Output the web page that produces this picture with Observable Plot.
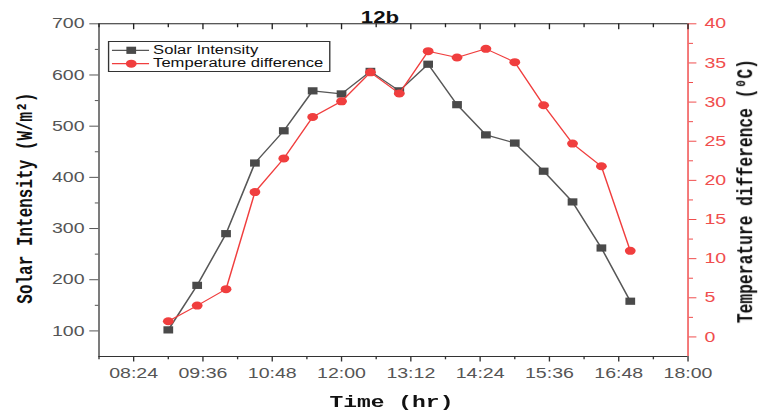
<!DOCTYPE html>
<html>
<head>
<meta charset="utf-8">
<script src="https://cdn.jsdelivr.net/npm/d3@7"></script>
<script src="https://cdn.jsdelivr.net/npm/@observablehq/plot@0.6"></script>
<style>
  html, body { margin: 0; padding: 0; background: #fff; }
  /* the chart is laid out on a narrow canvas and widened horizontally */
  #wrap { position: relative; width: 562px; height: 412px; transform: scaleX(1.3488); transform-origin: 0 0; }
  #wrap svg { overflow: visible; }
  #legend { position: absolute; left: 79.5px; top: 40.5px; width: 165px; height: 31px; box-sizing: border-box;
            border: 1px solid #333; background: #fff; font-family: "Liberation Sans", Arial, sans-serif; font-size: 12.3px; color: #111; }
  #legend svg { position: absolute; left: 0; top: 0; }
  #legend span { position: absolute; left: 33px; white-space: nowrap; line-height: 14px; }
</style>
</head>
<body>
<div id="wrap"></div>
<script>
// Measurements taken every half hour
const times = ["09:00","09:30","10:00","10:30","11:00","11:30","12:00","12:30","13:00",
               "13:30","14:00","14:30","15:00","15:30","16:00","16:30","17:00"];
const solarIntensity = [102, 189, 290, 428, 491, 569, 563, 607, 569, 621, 542, 483, 467, 412, 352, 262, 158];
const tempDifference = [2.0, 4.0, 6.1, 18.5, 22.8, 28.1, 30.1, 33.8, 31.1, 36.5, 35.7, 36.8, 35.1, 29.6, 24.7, 21.8, 11.0];

// Axis extents and ticks
const timeDomain = ["07:48", "18:00"];
const timeTicks = ["08:24","09:36","10:48","12:00","13:12","14:24","15:36","16:48","18:00"];
const timeMinorTicks = ["07:48","09:00","10:12","11:24","12:36","13:48","15:00","16:12","17:24"];
const solarDomain = [50, 700];
const solarTicks = [100, 200, 300, 400, 500, 600, 700];
const solarMinorTicks = [150, 250, 350, 450, 550, 650];
const tempDomain = [-2.5, 40];
const tempTicks = [0, 5, 10, 15, 20, 25, 30, 35, 40];
const tempMinorTicks = [2.5, 7.5, 12.5, 17.5, 22.5, 27.5, 32.5, 37.5];

const GRAY = "#4a4a4a", GRAY_LINE = "#575757";
const RED = "#f03e3e", RED_AXIS = "#f04d4d";
const SANS = "Liberation Sans, Arial, sans-serif";
const MONO = "Liberation Mono, Courier New, monospace";

const parseTime = s => { const [h, m] = s.split(":").map(Number); return new Date(Date.UTC(2000, 0, 1, h, m)); };
const fmtTime = d3.utcFormat("%H:%M");

// temperature is drawn against the intensity scale; the right axis maps back
const k = (solarDomain[1] - solarDomain[0]) / (tempDomain[1] - tempDomain[0]);
const toSolar = t => solarDomain[0] + (t - tempDomain[0]) * k;
const fromSolar = v => tempDomain[0] + (v - solarDomain[0]) / k;

const rows = times.map((t, i) => ({time: parseTime(t), solar: solarIntensity[i], temp: tempDifference[i]}));
const xd = timeDomain.map(parseTime);
const noText = () => "";

// short vertical stroke hanging down from the top edge
const tickDown = {draw(context, l) { context.moveTo(0, 0); context.lineTo(0, -l); }};

const chart = Plot.plot({
  width: 562,
  height: 412,
  marginTop: 23.3,
  marginBottom: 56,
  marginLeft: 72.9,
  marginRight: 52.4,
  style: {fontFamily: SANS, fontSize: "14.5px", background: "#fff", color: "#555"},
  x: {type: "utc", domain: xd, axis: null},
  y: {domain: solarDomain, axis: null},
  marks: [
    // frame
    Plot.ruleY([solarDomain[1]], {stroke: "#222", strokeWidth: 1.1}),
    Plot.ruleY([solarDomain[0]], {stroke: "#333", strokeWidth: 1.2}),
    Plot.ruleX([xd[0]], {stroke: "#6a6a6a", strokeWidth: 1.3}),
    Plot.ruleX([xd[1]], {stroke: RED_AXIS, strokeWidth: 1.1}),

    // left axis
    Plot.axisY({ticks: solarTicks, anchor: "left", tickSize: 6.7, tickPadding: 4, label: null,
                stroke: "#555", fill: "#555", fontSize: 14.5}),
    Plot.axisY({ticks: solarMinorTicks, anchor: "left", tickSize: 2.6, tickFormat: noText, label: null, stroke: "#555"}),

    // right axis (temperature)
    Plot.axisY({ticks: tempTicks.map(toSolar), anchor: "right", tickSize: 5.7, tickPadding: 6.5, label: null,
                tickFormat: d => String(Math.round(fromSolar(d) * 100) / 100),
                stroke: RED_AXIS, fill: RED_AXIS, fontSize: 14.5}),
    Plot.axisY({ticks: tempMinorTicks.map(toSolar), anchor: "right", tickSize: 3.2, tickFormat: noText, label: null, stroke: RED_AXIS}),

    // bottom axis
    Plot.axisX({ticks: timeTicks.map(parseTime), anchor: "bottom", tickSize: 5.5, tickPadding: 6, label: null,
                tickFormat: fmtTime, stroke: "#333", fill: "#555", fontSize: 14.5}),
    Plot.axisX({ticks: timeMinorTicks.map(parseTime), anchor: "bottom", tickSize: 3.3, tickFormat: noText, label: null, stroke: "#333"}),

    // top ticks pointing inward
    Plot.vector(timeTicks.map(parseTime), {x: d => d, frameAnchor: "top", length: 5, rotate: 180, anchor: "start", shape: tickDown, stroke: "#222", strokeWidth: 1}),
    Plot.vector(timeMinorTicks.map(parseTime), {x: d => d, frameAnchor: "top", length: 3, rotate: 180, anchor: "start", shape: tickDown, stroke: "#222", strokeWidth: 1}),

    // series
    Plot.line(rows, {x: "time", y: "solar", stroke: GRAY_LINE, strokeWidth: 1.2}),
    Plot.dot(rows, {x: "time", y: "solar", symbol: "square", r: 4.07, fill: GRAY, stroke: null}),
    Plot.line(rows, {x: "time", y: d => toSolar(d.temp), stroke: RED, strokeWidth: 1.1}),
    Plot.dot(rows, {x: "time", y: d => toSolar(d.temp), symbol: "circle", r: 4, fill: RED, stroke: null}),

    // titles
    Plot.text(["12b"], {text: d => d, frameAnchor: "top", lineAnchor: "middle", dx: -10, dy: -6, fontFamily: SANS, fontWeight: "bold", fontSize: 16.5, fill: "#111"}),
    Plot.text(["Time (hr)"], {text: d => d, frameAnchor: "bottom", lineAnchor: "middle", dx: -1.5, dy: 45, fontFamily: MONO, fontWeight: "bold", fontSize: 17, fill: "#111"}),
    Plot.text(["Solar Intensity (W/m²)"], {text: d => d, frameAnchor: "left", textAnchor: "middle", lineAnchor: "middle", dx: -55, dy: 8, rotate: -90, fontFamily: MONO, fontWeight: "bold", fontSize: 16, fill: "#111"}),
    Plot.text(["Temperature difference (⁰C)"], {text: d => d, frameAnchor: "right", textAnchor: "middle", lineAnchor: "middle", dx: 42, dy: 1, rotate: -90, fontFamily: MONO, fontWeight: "bold", fontSize: 16.3, fill: "#111"})
  ]
});

const wrap = document.getElementById("wrap");
wrap.appendChild(chart);

// legend box
const legend = d3.select(wrap).append("div").attr("id", "legend");
const swatch = legend.append("svg").attr("width", 165).attr("height", 31);
const entries = [
  {label: "Solar Intensity", color: GRAY_LINE, fill: GRAY, shape: "square", y: 8.3},
  {label: "Temperature difference", color: RED, fill: RED, shape: "circle", y: 21.7}
];
for (const e of entries) {
  swatch.append("line").attr("x1", 2).attr("x2", 29.5).attr("y1", e.y).attr("y2", e.y)
    .attr("stroke", e.color).attr("stroke-width", 1.2);
  if (e.shape === "square") {
    swatch.append("rect").attr("x", 16.3 - 3.6).attr("y", e.y - 3.6).attr("width", 7.2).attr("height", 7.2).attr("fill", e.fill);
  } else {
    swatch.append("circle").attr("cx", 16.3).attr("cy", e.y).attr("r", 4).attr("fill", e.fill);
  }
  legend.append("span").style("top", (e.y - 7) + "px").text(e.label);
}
</script>
</body>
</html>
